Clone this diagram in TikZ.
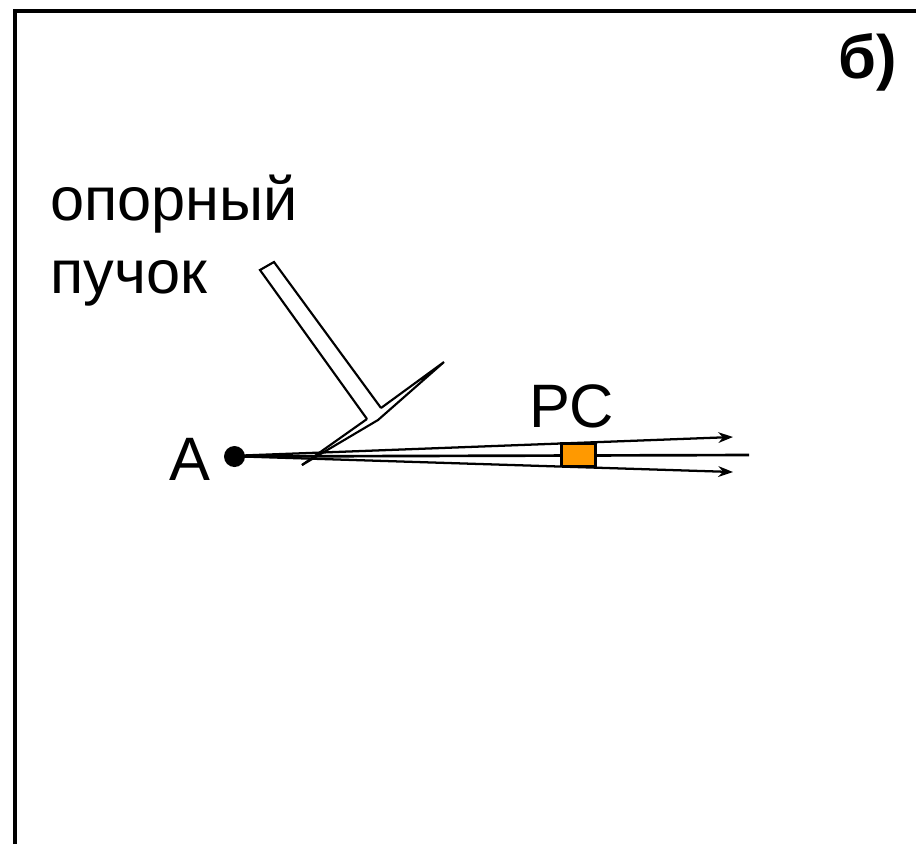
\documentclass[tikz,border=0pt]{standalone}
\usepackage{fontspec}
\setmainfont{Liberation Sans}
\usetikzlibrary{arrows.meta}
\definecolor{rcorange}{RGB}{255,153,0}
\tikzset{
  lbl/.style={inner sep=0pt,anchor=base west,font=\fontsize{46}{52}\selectfont},
  ray/.style={draw=black,line width=2pt},
  arrowray/.style={draw=black,line width=1.7pt,-{Stealth[length=11pt,width=8pt,inset=3.5pt]}},
  frameline/.style={draw=black,line width=3pt},
  thin shape/.style={draw=black,line width=1.6pt,line join=miter,miter limit=20}
}
\begin{document}
\begin{tikzpicture}[x=0.75pt,y=-0.75pt]
\useasboundingbox (0,0) rectangle (916,844);
\fill[white] (0,0) rectangle (916,844);
\draw[frameline] (15,844) -- (15,11) -- (916,11);
\node[lbl,font=\fontsize{46}{52}\selectfont\bfseries] (b) at (838,78) {б)};
\node[lbl] (op) at (50,220) {опорный};
\node[lbl] (pu) at (50,293) {пучок};
\node[lbl] (rc) at (529,427) {РС};
\node[lbl] (a) at (169,480) {А};
\fill[black] (234.5,456.5) circle (10.5) coordinate (dot);
\coordinate (end) at (749,455);
\coordinate (upr) at (733,437);
\coordinate (lwr) at (733,472);
\draw[ray] (dot) -- (end);
\draw[arrowray] (dot) ++(8,-1) -- (upr);
\draw[arrowray] (dot) ++(8,0) -- (lwr);
\node[draw=black,line width=2pt,fill=rcorange,minimum width=25.5pt,minimum height=17pt,inner sep=0pt] (box) at (578.5,454.5) {};
\filldraw[fill=white,thin shape] (367,419) -- (260,270) -- (274,262) -- (381,408);
\draw[thin shape] (302,465) -- (367,419);
\draw[thin shape] (381,408) -- (444,362) -- (378,420) -- (302,465);
\end{tikzpicture}
\end{document}
